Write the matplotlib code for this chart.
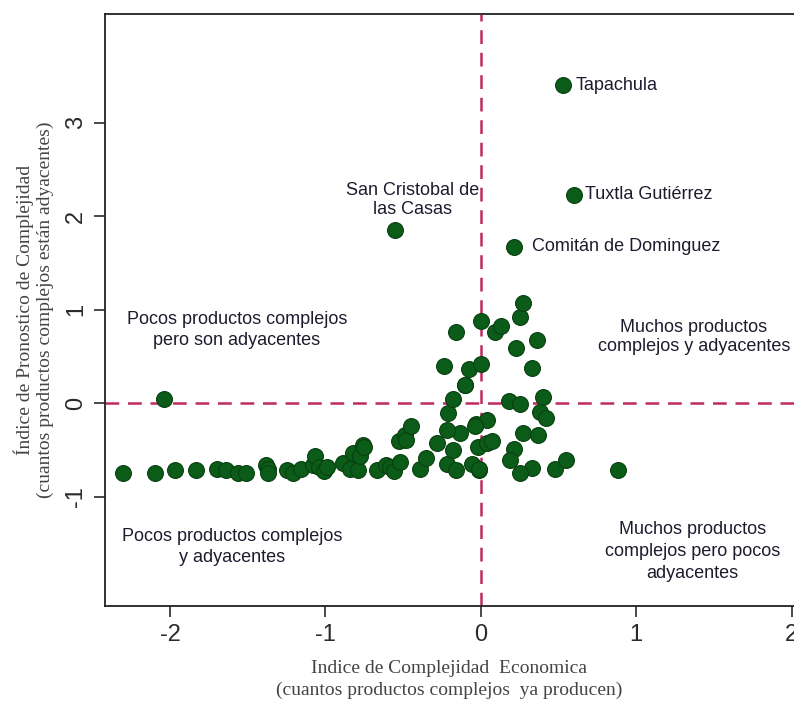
import numpy as np
import matplotlib.pyplot as plt

plt.rcParams["axes.unicode_minus"] = False

# Indice de Complejidad Economica (x) vs Indice de Pronostico de Complejidad (y)
eci = [0.53, 0.60, 0.21, -0.55, -2.04,
       -2.30, -2.10, -1.97, -1.83, -1.70, -1.64, -1.56, -1.51, -1.38, -1.37,
       -1.37, -1.25, -1.21, -1.16, -1.08, -1.07, -1.04, -1.01, -0.99, -0.885,
       -0.84, -0.82, -0.79, -0.78, -0.76, -0.75, -0.67, -0.61, -0.585, -0.56,
       -0.53, -0.52, -0.49, -0.48, -0.45, -0.39, -0.35, -0.285, -0.22, -0.21,
       -0.18, -0.18, -0.16, -0.135, -0.10, -0.06, -0.03, -0.02, -0.01, 0.04,
       0.04, 0.07, -0.04, -0.24, -0.16, -0.10, -0.075, 0.0, 0.0, 0.09,
       0.13, 0.225, 0.25, 0.27, 0.33, 0.36, 0.40, 0.18, 0.25, 0.38,
       0.42, 0.27, 0.37, 0.21, 0.19, 0.33, 0.25, 0.48, 0.55, 0.88,
       -0.01, -0.22]
ipc = [3.40, 2.23, 1.67, 1.85, 0.04,
       -0.75, -0.75, -0.72, -0.72, -0.71, -0.72, -0.75, -0.75, -0.66, -0.70,
       -0.75, -0.72, -0.75, -0.70, -0.66, -0.57, -0.68, -0.73, -0.68, -0.645,
       -0.70, -0.53, -0.72, -0.57, -0.45, -0.47, -0.72, -0.66, -0.68, -0.73,
       -0.41, -0.63, -0.34, -0.40, -0.25, -0.70, -0.59, -0.43, -0.65, -0.11,
       0.04, -0.50, -0.72, -0.32, 0.19, -0.65, -0.22, -0.47, -0.72, -0.18,
       -0.43, -0.41, -0.24, 0.40, 0.76, 0.19, 0.36, 0.88, 0.42, 0.76,
       0.82, 0.59, 0.92, 1.07, 0.37, 0.67, 0.07, 0.02, -0.01, -0.10,
       -0.16, -0.32, -0.34, -0.49, -0.61, -0.69, -0.75, -0.71, -0.61, -0.72,
       -0.70, -0.29]

labels = ["Tapachula", "Tuxtla Gutiérrez", "Comitán de Dominguez"]
x_ticks = [-2, -1, 0, 1, 2]
y_ticks = [-1, 0, 1, 2, 3]

green = "#0b5c18"
dash_col = "#bf2a62"
txt_col = "#1c1c2e"

fig = plt.figure(figsize=(7.94, 7.03), dpi=100)
ax = fig.add_axes([0.132, 0.138, 0.868, 0.842])

ax.axvline(0, color=dash_col, lw=1.8, dashes=(5.5, 3.5), zorder=1)
ax.axhline(0, color=dash_col, lw=1.8, dashes=(5.5, 3.5), zorder=1)

ax.scatter(eci, ipc, s=130, color=green, edgecolor="#08400f", linewidth=0.8,
           zorder=3)

fs = 13
ff = "Liberation Sans"
ax.annotate(labels[0], xy=(eci[0], ipc[0]), xytext=(9, 0),
            textcoords="offset points", va="center", fontsize=fs,
            color=txt_col, family=ff)
ax.annotate(labels[1], xy=(eci[1], ipc[1]), xytext=(8, 0),
            textcoords="offset points", va="center", fontsize=fs,
            color=txt_col, family=ff)
ax.annotate(labels[2], xy=(eci[2], ipc[2]), xytext=(13, 0),
            textcoords="offset points", va="center", fontsize=fs,
            color=txt_col, family=ff)
ax.text(-0.44, 2.17, "San Cristobal de\nlas Casas", ha="center", va="center",
        fontsize=fs, color=txt_col, family=ff, linespacing=1.2)

# quadrant texts
ax.text(-1.57, 0.78, "Pocos productos complejos\npero son adyacentes",
        ha="center", va="center", fontsize=fs, color=txt_col,
        family=ff, linespacing=1.35)
ax.text(1.37, 0.71, "Muchos productos\ncomplejos y adyacentes",
        ha="center", va="center", fontsize=fs, color=txt_col,
        family=ff, linespacing=1.15)
ax.text(-1.60, -1.54, "Pocos productos complejos\ny adyacentes",
        ha="center", va="center", fontsize=fs, color=txt_col,
        family=ff, linespacing=1.25)
ax.text(1.36, -1.59, "Muchos productos\ncomplejos pero pocos\nadyacentes",
        ha="center", va="center", fontsize=fs, color=txt_col,
        family=ff, linespacing=1.4)

ax.set_xlim(-2.42, 2.015)
ax.set_ylim(-2.17, 4.16)
ax.set_xticks(x_ticks)
ax.set_yticks(y_ticks)
ax.tick_params(direction="out", length=8, width=1.2, labelsize=17,
               colors="#2a2a2a", pad=5)
for lab in ax.get_xticklabels() + ax.get_yticklabels():
    lab.set_family(ff)
for lab in ax.get_yticklabels():
    lab.set_rotation(90)
    lab.set_va("center")

ax.spines["right"].set_visible(False)
for s in ["left", "bottom", "top"]:
    ax.spines[s].set_linewidth(1.3)
    ax.spines[s].set_color("#222222")

ax.set_xlabel("Indice de Complejidad  Economica\n(cuantos productos complejos  ya producen)",
              family="Liberation Serif", fontsize=14, color="#444444",
              labelpad=10, linespacing=1.35)
ax.set_ylabel("Índice de Pronostico de Complejidad\n(cuantos productos complejos están adyacentes)",
              family="Liberation Serif", fontsize=14, color="#444444",
              labelpad=8, linespacing=1.2)

fig.savefig("out.png", dpi=100)
